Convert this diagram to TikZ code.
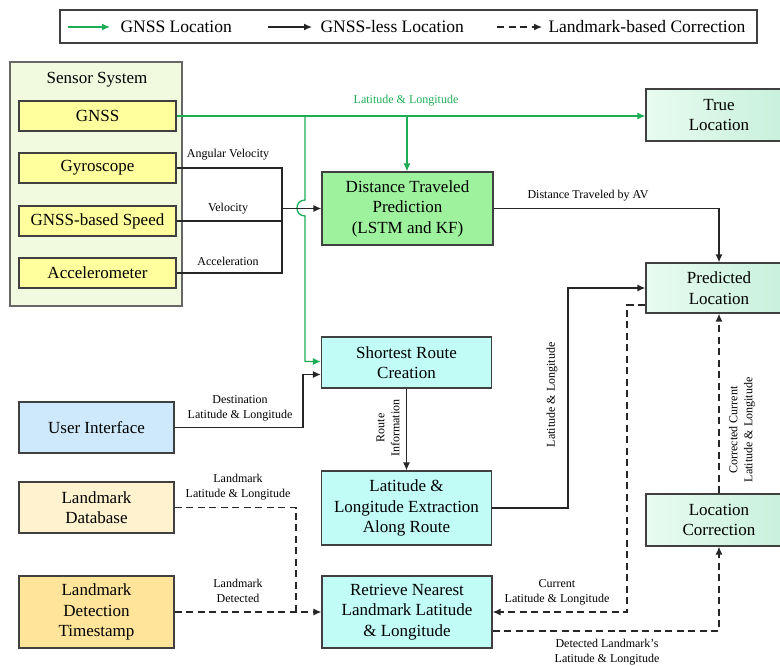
\documentclass[tikz,border=0pt]{standalone}
\usepackage{fontspec}
\setmainfont{Liberation Serif}
\usetikzlibrary{arrows.meta}

\newcommand\bxfont{\fontsize{17}{20.5}\selectfont}
\newcommand\lgfont{\fontsize{17.5}{20}\selectfont}
\newcommand\lbfont{\fontsize{12}{15}\selectfont}

\definecolor{gnssgreen}{HTML}{1DAE55}
\definecolor{boxline}{HTML}{404040}
\definecolor{sensorbg}{HTML}{F1FADF}
\definecolor{sensoryel}{HTML}{FFFF9E}
\definecolor{predgreen}{HTML}{9EF29E}
\definecolor{routecyan}{HTML}{C2FCF6}
\definecolor{mintA}{HTML}{E8FBF1}
\definecolor{mintB}{HTML}{C6F0DA}
\definecolor{uiblue}{HTML}{CDE9FB}
\definecolor{dbcream}{HTML}{FFF2CE}
\definecolor{detyel}{HTML}{FFE49A}

\tikzset{
  box/.style={draw=boxline, line width=1.2pt, align=center, inner sep=2pt, font=\bxfont},
  sensorbox/.style={box, fill=sensoryel, minimum width=157pt, minimum height=30pt},
  mintbox/.style={box, left color=mintA, right color=mintB, minimum width=146pt},
  cyanbox/.style={box, fill=routecyan, minimum width=170pt},
  srcbox/.style={box, minimum width=155pt},
  tip/.style={-{Latex[length=8pt,width=7pt]}},
  gline/.style={draw=gnssgreen, line width=1.3pt},
  kline/.style={draw=black!85, line width=1.3pt},
  dline/.style={draw=black!85, line width=1.3pt, dash pattern=on 7pt off 4.5pt},
  lbl/.style={font=\lbfont, align=center, inner sep=1pt},
}

\begin{document}
\begin{tikzpicture}[x=1pt,y=-1pt]
\useasboundingbox (0,0) rectangle (780,665);
\clip (0,0) rectangle (780,665);

% legend
\node[draw=boxline, line width=1.2pt, minimum width=697pt, minimum height=33pt, inner sep=0pt] (legend) at (408.5,26.5) {};
\coordinate (lg1a) at (68,27);  \coordinate (lg1b) at (110,27);
\coordinate (lg2a) at (268,27); \coordinate (lg2b) at (312,27);
\coordinate (lg3a) at (497,27); \coordinate (lg3b) at (542,27);
\draw[gline, tip] (lg1a) -- (lg1b);
\draw[kline, tip] (lg2a) -- (lg2b);
\draw[dline, tip] (lg3a) -- (lg3b);
\node[font=\lgfont, anchor=west] (lgt1) at (117,27) {GNSS Location};
\node[font=\lgfont, anchor=west] (lgt2) at (317,27) {GNSS-less Location};
\node[font=\lgfont, anchor=west] (lgt3) at (545,27) {Landmark-based Correction};

% sensor system
\node[draw=boxline!80, line width=1.2pt, fill=sensorbg, minimum width=172pt, minimum height=244pt] (sensor) at (96,184) {};
\node[font=\bxfont] (sensortitle) at (97,80) {Sensor System};
\node[sensorbox] (gnss)  at (97.5,116) {GNSS};
\node[sensorbox] (gyro)  at (97.5,168) {Gyroscope};
\node[sensorbox] (speed) at (97.5,221) {GNSS-based Speed};
\node[sensorbox] (accel) at (97.5,273) {Accelerometer};

% processing blocks
\node[box, fill=predgreen, minimum width=171pt, minimum height=73pt] (dist) at (407.5,208.5) {Distance Traveled\\Prediction\\(LSTM and KF)};
\node[mintbox, minimum height=52pt] (truel) at (719,115) {True\\Location};
\node[mintbox, minimum height=50pt] (pred)  at (719,288) {Predicted\\Location};
\node[mintbox, minimum height=52pt] (corr)  at (719,520) {Location\\Correction};
\node[cyanbox, minimum height=51pt] (route)    at (406.5,362.5) {Shortest Route\\Creation};
\node[cyanbox, minimum height=74pt] (extract)  at (406.5,508) {Latitude \&\\Longitude Extraction\\Along Route};
\node[cyanbox, minimum height=72pt] (retrieve) at (407,612) {Retrieve Nearest\\Landmark Latitude\\\& Longitude};
\node[srcbox, fill=uiblue, minimum height=51pt]  (ui)    at (96.5,427.5) {User Interface};
\node[srcbox, fill=dbcream, minimum height=51pt] (lmdb)  at (96.5,507.5) {Landmark\\Database};
\node[srcbox, fill=detyel, minimum height=72pt]  (lmdet) at (96.5,612) {Landmark\\Detection\\Timestamp};

% GNSS connectors
\coordinate (gv1) at (305,116);
\coordinate (gv2) at (407,116);
\draw[gline, tip] (gnss.east) -- (gnss.east -| truel.west);
\draw[gline, tip] (gv2) -- (gv2 |- dist.north);
\draw[gline, tip] (gv1) -- (305,200) .. controls (294.3,200) and (294.3,216) .. (305,216)
  |- ([yshift=1pt]route.west);
\node[lbl, text=gnssgreen] (lblgnss) at (406,101) {Latitude \& Longitude};

% inertial inputs
\coordinate (merge) at (282,208.5);
\draw[kline] (gyro.east) -| (merge);
\draw[kline] (accel.east) -| (merge);
\draw[kline] (speed.east) -- (speed.east -| merge);
\draw[kline, tip] (merge) -- (merge -| dist.west);
\node[lbl] (lblang) at (228,155) {Angular Velocity};
\node[lbl] (lblvel) at (228,209) {Velocity};
\node[lbl] (lblacc) at (228,261) {Acceleration};

% distance to predicted location
\coordinate (predtop) at (pred.north);
\draw[kline, tip] (dist.east) -| (predtop);
\node[lbl] (lbldist) at (588,196) {Distance Traveled by AV};

% route chain
\coordinate (uiup) at (303,427.5);
\draw[kline, tip] (ui.east) -- (uiup) |- ([yshift=-12pt]route.west);
\node[lbl] (lbldest) at (240,408) {Destination\\Latitude \& Longitude};
\draw[kline, tip] (route.south) -- (extract.north);
\node[lbl, rotate=90] (lblroute) at (388,428) {Route\\Information};
\coordinate (exup) at (568,508);
\draw[kline, tip] (extract.east) -- (exup) |- (pred.west);
\node[lbl, rotate=90] (lblext) at (552,395) {Latitude \& Longitude};

% landmark-based correction
\coordinate (lmjoin) at (296,612);
\draw[dline] (lmdb.east) -| (lmjoin);
\draw[dline, tip] (lmdet.east) -- (retrieve.west);
\node[lbl] (lbllmdb) at (238,487) {Landmark\\Latitude \& Longitude};
\node[lbl] (lbllmdet) at (238,591) {Landmark\\Detected};

\coordinate (curdown) at (627,305);
\draw[dline, tip] ([yshift=-17pt]pred.west) -- (curdown) |- (retrieve.east);
\node[lbl] (lblcur) at (557,592.5) {Current\\Latitude \& Longitude};

\coordinate (detright) at (719,631);
\draw[dline, tip] ([yshift=-19pt]retrieve.east) -- (detright) -- (corr.south);
\node[lbl] (lbldet) at (607,652) {Detected Landmark's\\Latitude \& Longitude};

\draw[dline, tip] (corr.north) -- (pred.south);
\node[lbl, rotate=90] (lblcorr) at (742,430) {Corrected Current\\Latitude \& Longitude};
\end{tikzpicture}
\end{document}
